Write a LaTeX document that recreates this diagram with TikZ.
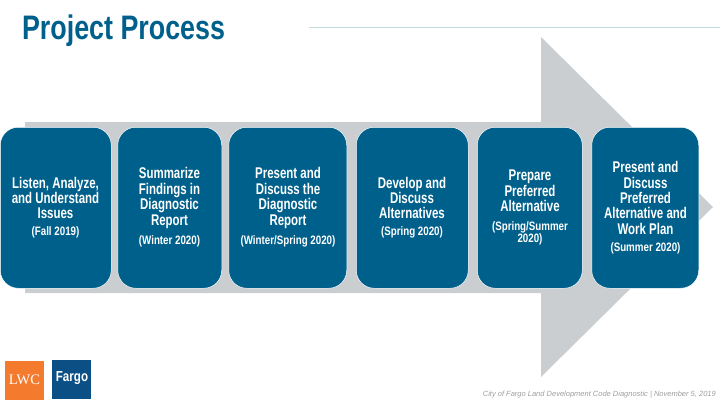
\documentclass[tikz,border=0pt]{standalone}
\usepackage{fontspec}
\setmainfont{Liberation Sans}[FakeStretch=0.8]
\newfontfamily\stepfont{Liberation Sans}[FakeStretch=0.74]
\newfontfamily\titlefont{Liberation Sans}[FakeStretch=0.79]
\newfontfamily\logofont{Liberation Serif}
\newfontfamily\footfont{Liberation Sans}
\definecolor{lakeblue}{HTML}{00608C}
\definecolor{arrowgray}{HTML}{CBCED1}
\definecolor{rulegreen}{HTML}{C3DCDC}
\definecolor{logoorange}{HTML}{F47B2E}
\definecolor{logoblue}{HTML}{0B4F85}
\tikzset{
	stepbox/.style={draw=white, line width=0.5pt, fill=lakeblue, text=white, shape=rectangle, rounded corners=18pt, align=center, anchor=north west},
	steptext/.style={text=white, align=center, font=\stepfont\bfseries\fontsize{15.5}{15.4}\selectfont},
	datetext/.style={text=white, align=center, font=\bfseries\fontsize{12.2}{12}\selectfont}
}
\begin{document}
\begin{tikzpicture}[x=1pt, y=-1pt]
	\useasboundingbox (0,0) rectangle (720,405);

	\node[text=lakeblue, font=\titlefont\bfseries\fontsize{34}{38}\selectfont, anchor=west] (title) at (18.5,31) {Project Process};
	\coordinate (ruleleft) at (309,27.5);
	\coordinate (ruleright) at (720,27.5);
	\draw[rulegreen, line width=0.8pt] (ruleleft) -- (ruleright);

	\fill[arrowgray] (25,122) -- (541,122) -- (541,37) -- (713,207) -- (541,377) -- (541,293) -- (25,293) -- cycle;

	\node[stepbox, minimum width=111pt, minimum height=161pt] (listen) at (0,127) {};
	\node[stepbox, minimum width=104pt, minimum height=161pt] (summarize) at (117.5,127) {};
	\node[stepbox, minimum width=118pt, minimum height=161pt] (present) at (228.5,127) {};
	\node[stepbox, minimum width=112pt, minimum height=161pt] (develop) at (356,127) {};
	\node[stepbox, minimum width=105pt, minimum height=161pt] (prepare) at (477,127) {};
	\node[stepbox, minimum width=107pt, minimum height=161pt] (workplan) at (591.5,127) {};

	\node[steptext] (listen_t) at (55.5,198) {Listen, Analyze,\\and Understand\\Issues};
	\node[datetext] (listen_d) at (55.5,232) {(Fall 2019)};
	\node[steptext] (summarize_t) at (169.5,198) {Summarize\\Findings in\\Diagnostic\\Report};
	\node[datetext] (summarize_d) at (169.5,241) {(Winter 2020)};
	\node[steptext] (present_t) at (288,198) {Present and\\Discuss the\\Diagnostic\\Report};
	\node[datetext] (present_d) at (288,241) {(Winter/Spring 2020)};
	\node[steptext] (develop_t) at (412,198) {Develop and\\Discuss\\Alternatives};
	\node[datetext] (develop_d) at (412,232) {(Spring 2020)};
	\node[steptext] (prepare_t) at (530,191) {Prepare\\Preferred\\Alternative};
	\node[datetext] (prepare_d) at (530,233) {(Spring/Summer\\2020)};
	\node[steptext] (workplan_t) at (645.5,198) {Present and\\Discuss\\Preferred\\Alternative and\\Work Plan};
	\node[datetext] (workplan_d) at (645.5,248) {(Summer 2020)};

	\node[fill=logoorange, minimum size=39pt, inner sep=0pt, text=white, font=\logofont\fontsize{14.5}{14.5}\selectfont] (lwc) at (24.5,380) {LWC};
	\node[fill=logoblue, minimum size=39pt, inner sep=0pt] (fargo) at (71.5,379.5) {};
	\node[text=white, inner sep=0pt, font=\bfseries\fontsize{14.5}{14.5}\selectfont] (fargo_t) at (72,378) {Fargo};

	\node[anchor=east, text=black!38, inner sep=0pt, font=\footfont\itshape\fontsize{7.5}{9}\selectfont] (footer) at (716,395) {City of Fargo Land Development Code Diagnostic | November 5, 2019};
\end{tikzpicture}
\end{document}
